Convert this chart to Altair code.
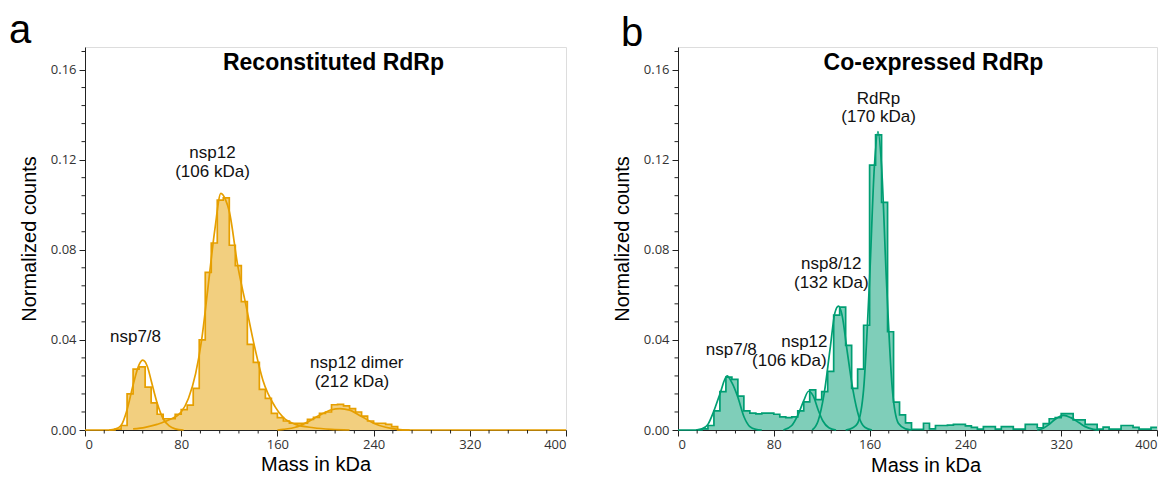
import altair as alt
import pandas as pd

# ---------------- data ----------------
bin_left = list(range(0, 400, 5))  # 5 kDa bins

a_counts = [
    0, 0, 0, 0, 0, 0.0004, 0.002, 0.016, 0.027, 0.028,
    0.019, 0.012, 0.007, 0.005, 0.005, 0.007, 0.009, 0.011, 0.0185, 0.040,
    0.070, 0.083, 0.102, 0.103, 0.082, 0.073, 0.057, 0.038, 0.030, 0.018,
    0.014, 0.0074, 0.0055, 0.004, 0.003, 0.003, 0.003, 0.0047, 0.0056, 0.0074,
    0.008, 0.0112, 0.0114, 0.0107, 0.0095, 0.008, 0.0062, 0.004, 0.003, 0.003,
    0.0025, 0.0015, 0, 0, 0, 0, 0, 0, 0, 0,
    0, 0, 0, 0, 0, 0, 0, 0, 0, 0,
    0, 0, 0, 0, 0, 0, 0, 0, 0, 0,
]

b_counts = [
    0, 0, 0, 0, 0.0005, 0.002, 0.0085, 0.017, 0.0235, 0.0225,
    0.015, 0.0085, 0.0075, 0.0072, 0.0075, 0.0075, 0.007, 0.0058, 0.0055, 0.0058,
    0.0085, 0.0125, 0.0178, 0.0135, 0.017, 0.026, 0.051, 0.0545, 0.0376, 0.0185,
    0.027, 0.0465, 0.1176, 0.131, 0.101, 0.0436, 0.0124, 0.0067, 0.0032, 0.0003,
    0.0003, 0.003, 0.0005, 0.002, 0.002, 0.0022, 0.0025, 0.0025, 0.0018, 0.0012,
    0.0004, 0.0015, 0.0015, 0.0004, 0.0015, 0.0015, 0.0004, 0.0004, 0.0025, 0.0025,
    0.001, 0.0028, 0.005, 0.0055, 0.0073, 0.0073, 0.0045, 0.0045, 0.0025, 0.0025,
    0.0004, 0.0013, 0.0004, 0.0004, 0.002, 0.002, 0.0012, 0.0004, 0.0004, 0.0012,
]

# fitted peak curves
a_fit_nsp78_x = [20, 25, 30, 35, 40, 45, 48, 52, 55, 60, 65, 70, 75, 82]
a_fit_nsp78_y = [0, 0.0004, 0.002, 0.009, 0.020, 0.029, 0.031, 0.028, 0.022, 0.012, 0.005, 0.0018, 0.0005, 0]
a_fit_nsp12_x = [40, 50, 60, 70, 80, 86, 92, 97, 102, 108, 113, 117, 120, 127, 134, 141, 148, 158, 165, 175, 190, 205, 220]
a_fit_nsp12_y = [0.0005, 0.0012, 0.0025, 0.0045, 0.008, 0.014, 0.025, 0.040, 0.062, 0.089, 0.105, 0.102, 0.097, 0.073, 0.055, 0.037, 0.022, 0.0104, 0.0055, 0.0025, 0.001, 0.0003, 0]
a_fit_dimer_x = [160, 165, 175, 185, 195, 205, 212, 220, 230, 240, 250, 260, 270]
a_fit_dimer_y = [0, 0.0003, 0.0012, 0.0035, 0.0065, 0.009, 0.0095, 0.0088, 0.006, 0.003, 0.0012, 0.0003, 0]

b_fit_nsp78_x = [15, 20, 25, 30, 35, 41, 45, 50, 55, 60, 65, 70]
b_fit_nsp78_y = [0, 0.0005, 0.0025, 0.0085, 0.016, 0.024, 0.021, 0.0145, 0.006, 0.0015, 0.0003, 0]
b_fit_nsp12_x = [88, 95, 100, 105, 109, 113, 117, 121, 126, 132]
b_fit_nsp12_y = [0, 0.002, 0.0065, 0.013, 0.0172, 0.015, 0.009, 0.004, 0.001, 0]
b_fit_nsp812_x = [112, 117, 122, 127, 131, 134, 137, 141, 146, 151, 156, 162]
b_fit_nsp812_y = [0, 0.004, 0.016, 0.036, 0.052, 0.055, 0.051, 0.036, 0.018, 0.006, 0.0012, 0]
b_fit_rdrp_x = [140, 146, 150, 155, 160, 164, 167, 170, 174, 179, 184, 190, 195]
b_fit_rdrp_y = [0, 0.001, 0.003, 0.018, 0.067, 0.117, 0.1325, 0.117, 0.067, 0.018, 0.003, 0.0005, 0]
b_fit_tail_x = [300, 305, 310, 315, 322, 328, 335, 340, 347, 352]
b_fit_tail_y = [0, 0.0008, 0.0025, 0.0048, 0.0065, 0.0055, 0.0032, 0.0015, 0.0003, 0]

# annotations
a_ann_text = ["nsp7/8", "nsp12", "(106 kDa)", "nsp12 dimer", "(212 kDa)"]
a_ann_x = [42, 106, 106, 226, 222]
a_ann_y = [0.0413, 0.1231, 0.1147, 0.0298, 0.0213]

b_ann_text = ["RdRp", "(170 kDa)", "nsp8/12", "(132 kDa)", "nsp12", "(106 kDa)", "nsp7/8"]
b_ann_x = [167.5, 167.5, 128, 128, 105.5, 93, 44.5]
b_ann_y = [0.1471, 0.1391, 0.0738, 0.0653, 0.0391, 0.0307, 0.0356]

# axis ticks
x_major = [0, 80, 160, 240, 320, 400]
x_minor = [16, 32, 48, 64, 96, 112, 128, 144, 176, 192, 208, 224,
           256, 272, 288, 304, 336, 352, 368, 384]
y_major = [0.0, 0.04, 0.08, 0.12, 0.16]
y_minor = [0.008, 0.016, 0.024, 0.032, 0.048, 0.056, 0.064, 0.072,
           0.088, 0.096, 0.104, 0.112, 0.128, 0.136, 0.144, 0.152, 0.168]

FONT = "Liberation Sans"
TICKFONT = "Open Sans"
AXC = "#222"


def build_panel(counts, fits, ann_text, ann_x, ann_y, color, title, letter,
                width, height, title_dx, letter_dx, letter_dy, xtitle_dx, xtitle_pad):
    hist = pd.DataFrame({"mass": bin_left + [400], "count": counts + [counts[-1]]})
    rows = []
    for name, (xs, ys) in fits.items():
        for xv, yv in zip(xs, ys):
            rows.append({"mass": xv, "count": yv, "peak": name})
    fit_df = pd.DataFrame(rows)
    ann = pd.DataFrame({"mass": ann_x, "count": ann_y, "label": ann_text})

    xsc = alt.Scale(domain=[0, 400], nice=False, zero=False)
    ysc = alt.Scale(domain=[0, 0.17], nice=False)

    xaxis = alt.Axis(
        values=x_major, title="Mass in kDa", grid=False, format="d",
        tickSize=6, labelFont=TICKFONT, labelFontSize=13, labelColor="#333",
        titleFont=FONT, titleFontSize=20, titleFontWeight="normal",
        titlePadding=xtitle_pad, titleX=width / 2 + xtitle_dx,
        titleColor="#000", domainColor=AXC, tickColor=AXC, labelPadding=2,
    )
    yaxis = alt.Axis(
        values=y_major, title="Normalized counts", grid=False, format=".2f",
        tickSize=6, labelFont=TICKFONT, labelFontSize=13, labelColor="#333",
        titleFont=FONT, titleFontSize=20, titleFontWeight="normal", titlePadding=11,
        titleColor="#000", domainColor=AXC, tickColor=AXC, labelPadding=3,
    )

    base = alt.Chart(hist).encode(
        x=alt.X("mass:Q", scale=xsc, axis=xaxis),
        y=alt.Y("count:Q", scale=ysc, axis=yaxis),
    )
    area = base.mark_area(interpolate="step-after", color=color, opacity=0.5)
    outline = base.mark_line(interpolate="step-after", color=color, strokeWidth=1.7)
    fits_l = alt.Chart(fit_df).mark_line(
        interpolate="monotone", color=color, strokeWidth=1.7
    ).encode(x="mass:Q", y="count:Q", detail="peak:N")
    labels = alt.Chart(ann).mark_text(
        font=FONT, fontSize=17, color="#111", baseline="middle", align="center"
    ).encode(x="mass:Q", y="count:Q", text="label:N")
    ttl = alt.Chart(pd.DataFrame({"t": [title]})).mark_text(
        font=FONT, fontSize=23, fontWeight="bold", color="#000", align="center",
        baseline="alphabetic"
    ).encode(x=alt.value(width / 2 + title_dx), y=alt.value(23), text="t:N")
    let = alt.Chart(pd.DataFrame({"t": [letter]})).mark_text(
        font=FONT, fontSize=40, color="#000", align="left", baseline="alphabetic"
    ).encode(x=alt.value(letter_dx), y=alt.value(letter_dy), text="t:N")

    xminor = alt.Chart(pd.DataFrame({"v": x_minor})).mark_rule(
        color=AXC, strokeWidth=1
    ).encode(x="v:Q", y=alt.value(height), y2=alt.value(height + 3.5))
    yminor = alt.Chart(pd.DataFrame({"v": y_minor})).mark_rule(
        color=AXC, strokeWidth=1
    ).encode(y="v:Q", x=alt.value(-3.5), x2=alt.value(0))

    return alt.layer(area, outline, fits_l, labels, ttl, let, xminor, yminor).properties(
        width=width, height=height
    )


panel_a = build_panel(
    a_counts,
    {"nsp7/8": (a_fit_nsp78_x, a_fit_nsp78_y),
     "nsp12": (a_fit_nsp12_x, a_fit_nsp12_y),
     "dimer": (a_fit_dimer_x, a_fit_dimer_y)},
    a_ann_text, a_ann_x, a_ann_y, "#E69F00", "Reconstituted RdRp", "a",
    481, 383, 8, -76, -4, -10, 3,
)
panel_b = build_panel(
    b_counts,
    {"nsp7/8": (b_fit_nsp78_x, b_fit_nsp78_y),
     "nsp12": (b_fit_nsp12_x, b_fit_nsp12_y),
     "nsp8/12": (b_fit_nsp812_x, b_fit_nsp812_y),
     "RdRp": (b_fit_rdrp_x, b_fit_rdrp_y),
     "tail": (b_fit_tail_x, b_fit_tail_y)},
    b_ann_text, b_ann_x, b_ann_y, "#009E73", "Co-expressed RdRp", "b",
    479, 383, 16, -57, -1, 8, 4,
)

chart = alt.hconcat(panel_a, panel_b, spacing=41).properties(
    padding={"left": 0, "top": 2, "right": 4, "bottom": 4}
).configure_view(stroke=None).configure(background="white")

chart.save("out.html", embed_options={"renderer": "svg", "actions": False})
